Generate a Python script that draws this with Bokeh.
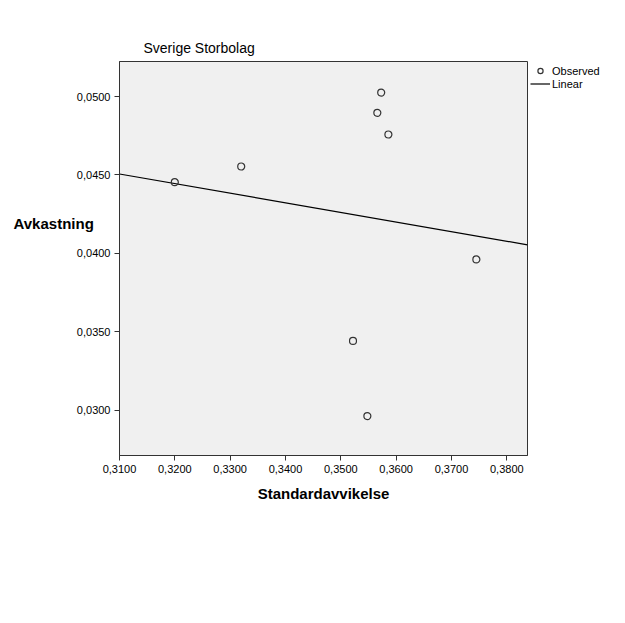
import numpy as np
from bokeh.plotting import figure
from bokeh.models import Label, Legend, FixedTicker
from bokeh.embed import file_html
from bokeh.resources import INLINE

# data
std_dev = [0.3200, 0.3320, 0.3573, 0.3566, 0.3586, 0.3522, 0.3548, 0.3745]
returns = [0.04454, 0.04554, 0.05025, 0.04896, 0.04758, 0.03443, 0.02964, 0.03962]

x_ticks = [0.31, 0.32, 0.33, 0.34, 0.35, 0.36, 0.37, 0.38]
x_tick_labels = ["0,3100", "0,3200", "0,3300", "0,3400", "0,3500", "0,3600", "0,3700", "0,3800"]
y_ticks = [0.030, 0.035, 0.040, 0.045, 0.050]
y_tick_labels = ["0,0300", "0,0350", "0,0400", "0,0450", "0,0500"]

x_lo, x_hi = 0.31, 0.38374
y_lo, y_hi = 0.02713, 0.05223

FONT = "Liberation Sans"

p = figure(frame_width=408, frame_height=394, x_range=(x_lo, x_hi), y_range=(y_lo, y_hi),
           output_backend="svg", toolbar_location=None,
           min_border_left=119, min_border_right=98, min_border_top=61, min_border_bottom=168,
           background_fill_color="#F0F0F0", border_fill_color="white",
           outline_line_color="#333333", outline_line_width=1)

p.grid.visible = False

# linear fit
slope, intercept = np.polyfit(std_dev, returns, 1)
fx = [x_lo, x_hi]
fy = [intercept + slope * v for v in fx]
r_line = p.line(fx, fy, line_color="black", line_width=1.2)

r_pts = p.scatter(std_dev, returns, marker="circle", size=7, fill_color=None,
                  line_color="#333333", line_width=1.2)

# axes
for ax in (p.xaxis[0], p.yaxis[0]):
    ax.axis_line_color = "#333333"
    ax.major_tick_line_color = "#333333"
    ax.major_tick_out = 5
    ax.major_tick_in = 0
    ax.minor_tick_line_color = None
    ax.major_label_text_font = FONT
    ax.major_label_text_font_size = "11px"
    ax.major_label_text_color = "black"
    ax.major_label_standoff = 4

p.xaxis.ticker = FixedTicker(ticks=x_ticks)
p.xaxis.major_label_overrides = {t: l for t, l in zip(x_ticks, x_tick_labels)}
p.yaxis.ticker = FixedTicker(ticks=y_ticks)
p.yaxis.major_label_overrides = {t: l for t, l in zip(y_ticks, y_tick_labels)}

p.xaxis.axis_label = "Standardavvikelse"
p.xaxis.axis_label_text_font = FONT
p.xaxis.axis_label_text_font_size = "15px"
p.xaxis.axis_label_text_font_style = "bold"
p.xaxis.axis_label_text_color = "black"
p.xaxis.axis_label_standoff = 9

# y-axis title, horizontal, left of the tick labels (placed from a bottom panel)
ylab = Label(x=-106, y=298, x_units="screen", y_units="screen", text="Avkastning",
             text_font=FONT, text_font_size="15px", text_font_style="bold",
             text_baseline="middle", text_align="left", text_color="black")
p.add_layout(ylab, "below")

# title
p.title.text = "Sverige Storbolag"
p.title.text_font = FONT
p.title.text_font_size = "14px"
p.title.text_font_style = "normal"
p.title.text_color = "black"
p.title.align = "left"
p.title.offset = 24
p.title.standoff = 11

legend = Legend(items=[("Observed", [r_pts]), ("Linear", [r_line])], location="top_left",
                border_line_color=None, background_fill_alpha=0,
                label_text_font=FONT, label_text_font_size="11px", label_text_color="black",
                glyph_width=20, glyph_height=13, label_height=13, spacing=0,
                label_standoff=2, padding=1, margin=3)
p.add_layout(legend, "right")

open("out.html", "w").write(file_html(p, INLINE))
